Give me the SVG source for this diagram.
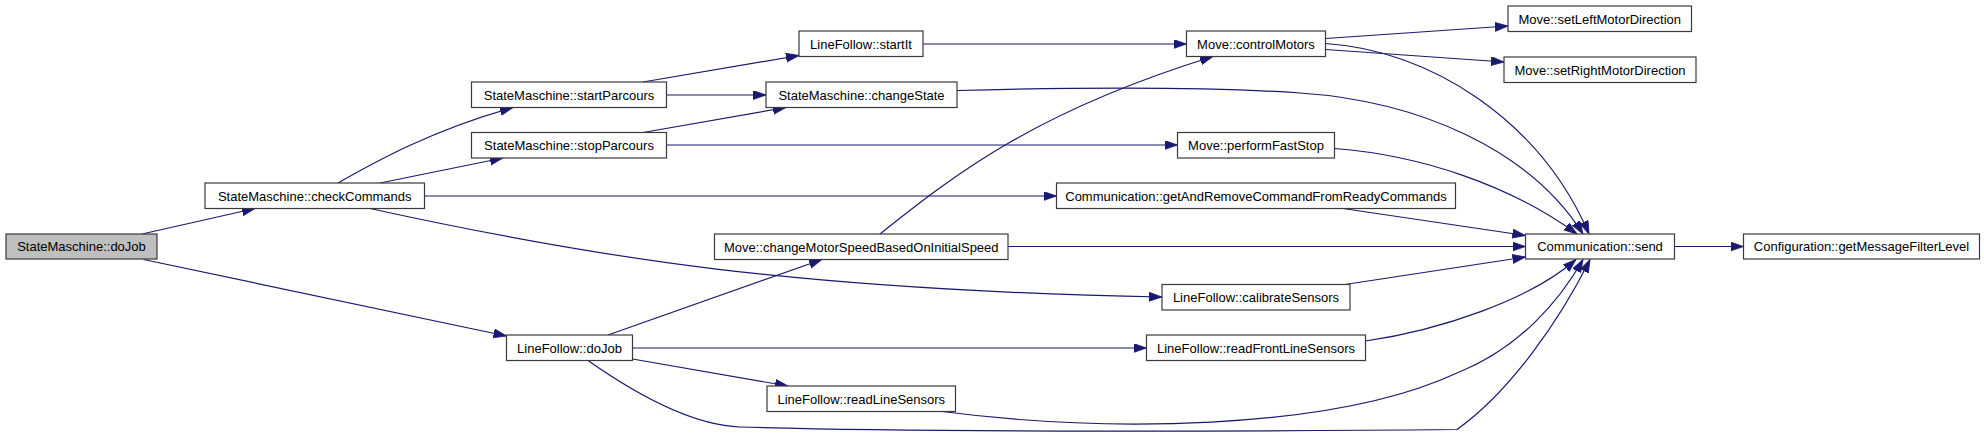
<svg xmlns="http://www.w3.org/2000/svg" width="1984" height="437" viewBox="0 0 1984 437">
<style>
  .node rect { fill: #ffffff; stroke: #3a3a3a; stroke-width: 1.2; }
  .node.active rect { fill: #bfbfbf; }
  .node text { font-family: "Liberation Sans", Arial, sans-serif; font-size: 13px; fill: #000000; text-anchor: middle; }
  .edges path { fill: none; stroke: #191970; stroke-width: 1.2; marker-end: url(#arr); }
</style>
<defs>
  <marker id="arr" markerUnits="userSpaceOnUse" markerWidth="15" markerHeight="11" refX="13" refY="4.5" orient="auto">
    <path d="M0,0 L13,4.5 L0,9 z" fill="#191970" stroke="#191970" stroke-width="0.8"/>
  </marker>
</defs>
<rect x="0" y="0" width="1984" height="437" fill="#ffffff"/>
<g class="edges" id="edges">
  <path d="M142,234 L255,208.5"/>
  <path d="M143.5,259.5 L506.5,336"/>
  <path d="M338,183 C375,162 432,130 513,107.5"/>
  <path d="M380,183 L503,158"/>
  <path d="M424.5,196 L1056.5,196"/>
  <path d="M370,208.5 C600,259 800,290 1162,297"/>
  <path d="M643,82 L799,55.5"/>
  <path d="M666.5,95 L766,95"/>
  <path d="M643,132.5 L786,107.5"/>
  <path d="M666.5,145 L1177.5,145"/>
  <path d="M923,44 L1186.5,44"/>
  <path d="M957,90.5 C1050,88 1200,86 1300,93 C1420,101 1530,150 1583,234"/>
  <path d="M880,234 C960,170 1040,110 1213,56.5"/>
  <path d="M1008,246.5 L1525.5,246.5"/>
  <path d="M608,335 L822,259.5"/>
  <path d="M632.5,348 L1146.5,348"/>
  <path d="M632.5,359 L788,386"/>
  <path d="M588,360.5 C630,390 690,425 740,427 C900,432 1200,432 1457,429.5 C1510,392 1560,320 1590,259.5"/>
  <path d="M942,411.5 C1100,432 1330,432 1457,373 C1520,348 1560,300 1583,259.5"/>
  <path d="M1325.5,38.5 L1508,26"/>
  <path d="M1325.5,49.5 L1504,62"/>
  <path d="M1325.5,43.5 C1430,50 1540,120 1589,234"/>
  <path d="M1334.5,148.5 C1420,155 1510,185 1577,234"/>
  <path d="M1343,208.5 L1525.5,235.5"/>
  <path d="M1345,284.5 L1525.5,257"/>
  <path d="M1365.5,341 C1440,330 1530,300 1576,259.5"/>
  <path d="M1674.5,246.5 L1743.5,246.5"/>
</g>
<g class="node active" id="node-statemaschine-dojob"><rect x="6" y="234" width="151" height="25"/><text x="81.5" y="251">StateMaschine::doJob</text></g>
<g class="node" id="node-checkcommands"><rect x="205" y="183" width="219.5" height="25.5"/><text x="314.75" y="200.5">StateMaschine::checkCommands</text></g>
<g class="node" id="node-startparcours"><rect x="471.5" y="82" width="195" height="25.5"/><text x="569" y="99.5">StateMaschine::startParcours</text></g>
<g class="node" id="node-stopparcours"><rect x="471.5" y="132.5" width="195" height="25.5"/><text x="569" y="150">StateMaschine::stopParcours</text></g>
<g class="node" id="node-startit"><rect x="799" y="31" width="124" height="25.5"/><text x="861" y="48.5">LineFollow::startIt</text></g>
<g class="node" id="node-changestate"><rect x="766" y="82" width="191" height="25.5"/><text x="861.5" y="99.5">StateMaschine::changeState</text></g>
<g class="node" id="node-changemotorspeed"><rect x="714.5" y="234" width="293.5" height="25.5"/><text x="861.25" y="251.5">Move::changeMotorSpeedBasedOnInitialSpeed</text></g>
<g class="node" id="node-linefollow-dojob"><rect x="506.5" y="335" width="126" height="25.5"/><text x="569.5" y="352.5">LineFollow::doJob</text></g>
<g class="node" id="node-readlinesensors"><rect x="767" y="386" width="188.5" height="25.5"/><text x="861.25" y="403.5">LineFollow::readLineSensors</text></g>
<g class="node" id="node-controlmotors"><rect x="1186.5" y="31" width="139" height="25.5"/><text x="1256" y="48.5">Move::controlMotors</text></g>
<g class="node" id="node-performfaststop"><rect x="1177.5" y="132.5" width="157" height="25.5"/><text x="1256" y="150">Move::performFastStop</text></g>
<g class="node" id="node-getandremove"><rect x="1056.5" y="183" width="399" height="25.5"/><text x="1256" y="200.5">Communication::getAndRemoveCommandFromReadyCommands</text></g>
<g class="node" id="node-calibratesensors"><rect x="1162" y="284.5" width="188" height="25.5"/><text x="1256" y="302">LineFollow::calibrateSensors</text></g>
<g class="node" id="node-readfrontlinesensors"><rect x="1146.5" y="335" width="219" height="25.5"/><text x="1256" y="352.5">LineFollow::readFrontLineSensors</text></g>
<g class="node" id="node-setleftmotordirection"><rect x="1508" y="6" width="183.5" height="25.5"/><text x="1599.75" y="23.5">Move::setLeftMotorDirection</text></g>
<g class="node" id="node-setrightmotordirection"><rect x="1504" y="57" width="192" height="25.5"/><text x="1600" y="74.5">Move::setRightMotorDirection</text></g>
<g class="node" id="node-send"><rect x="1525.5" y="234" width="149" height="25"/><text x="1600" y="251">Communication::send</text></g>
<g class="node" id="node-getmessagefilterlevel"><rect x="1743.5" y="234" width="236" height="25"/><text x="1861.5" y="251">Configuration::getMessageFilterLevel</text></g>
</svg>
